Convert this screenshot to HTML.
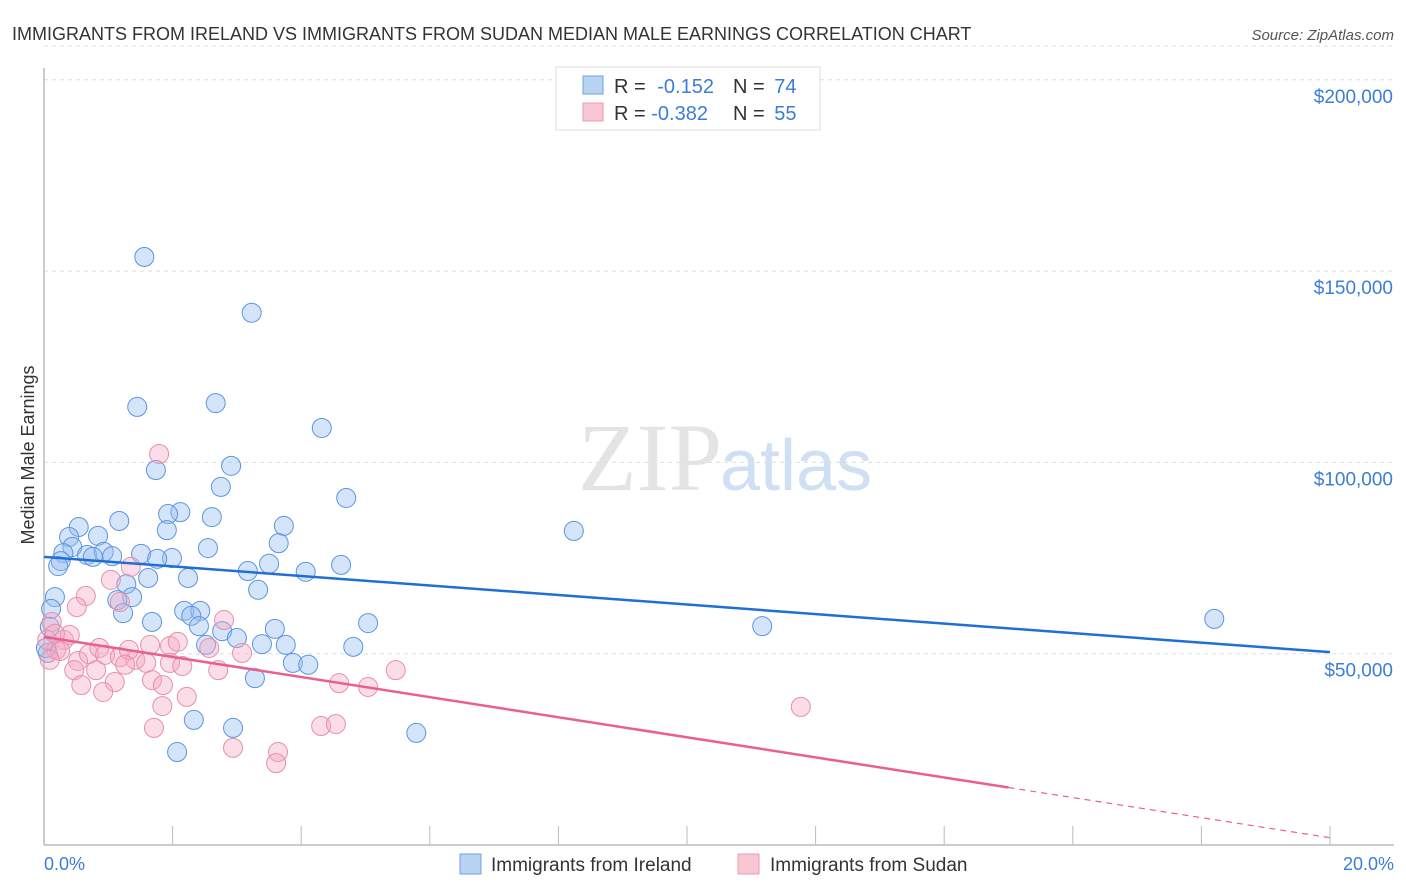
<!DOCTYPE html>
<html><head><meta charset="utf-8"><style>
body{margin:0;background:#fff;font-family:"Liberation Sans",sans-serif;}
svg{display:block}
</style></head><body>
<svg id="chart" width="1406" height="892" xmlns="http://www.w3.org/2000/svg">
<text x="12" y="40" font-size="18" fill="#333">IMMIGRANTS FROM IRELAND VS IMMIGRANTS FROM SUDAN MEDIAN MALE EARNINGS CORRELATION CHART</text>
<text x="1394" y="40" font-size="15" fill="#555" font-style="italic" text-anchor="end">Source: ZipAtlas.com</text>
<text x="722" y="490" font-size="96" fill="#e4e4e4" text-anchor="end" font-family="Liberation Serif,serif">ZIP</text>
<text x="720" y="490" font-size="72" fill="#cfe0f4">atlas</text>
<g id="grid"></g>
<g id="axes"></g>
<g id="pts"></g>
<g id="lines"></g>
<text transform="translate(34,455) rotate(-90)" font-size="18" fill="#333" text-anchor="middle">Median Male Earnings</text>
<text x="44" y="870" font-size="18" fill="#3b7dd8">0.0%</text>
<text x="1394" y="870" font-size="18" fill="#3b7dd8" text-anchor="end">20.0%</text>
<g>
<rect x="556" y="67" width="264" height="63" fill="#fff" stroke="#ddd"/>
<rect x="583" y="76" width="20" height="18" fill="#b9d3f3" stroke="#6fa0e0"/>
<rect x="583" y="103" width="20" height="18" fill="#f9c6d4" stroke="#ec9ab2"/>
<text x="614" y="93" font-size="20" fill="#333">R = <tspan fill="#3b7dd8" dx="6">-0.152</tspan></text>
<text x="733" y="93" font-size="20" fill="#333">N = <tspan fill="#3b7dd8" dx="4">74</tspan></text>
<text x="614" y="120" font-size="20" fill="#333">R = <tspan fill="#3b7dd8">-0.382</tspan></text>
<text x="733" y="120" font-size="20" fill="#333">N = <tspan fill="#3b7dd8" dx="4">55</tspan></text>
</g>
<g>
<rect x="460" y="854" width="21" height="20" fill="#b9d3f3" stroke="#6fa0e0"/>
<text x="491" y="871" font-size="19" fill="#333">Immigrants from Ireland</text>
<rect x="738" y="854" width="21" height="20" fill="#f9c6d4" stroke="#ec9ab2"/>
<text x="770" y="871" font-size="19" fill="#333">Immigrants from Sudan</text>
</g>
</svg>
<script>
const yTicks=[50,100,150,200];
const xTicks=[0,2,4,6,8,10,12,14,16,18,20];
const irelandX=[1.56,3.23,1.45,2.67,4.32,1.74,2.91,2.75,4.70,8.24,2.12,1.93,2.61,1.17,0.54,1.91,3.73,0.39,0.84,3.65,2.55,0.44,0.30,0.67,0.93,1.06,0.76,1.51,1.99,1.76,0.26,0.22,3.50,3.17,4.07,4.62,2.24,1.62,1.28,3.33,1.37,1.14,0.17,0.11,2.18,2.43,2.29,1.23,1.68,2.41,2.77,3.00,3.59,5.04,2.52,3.76,3.39,4.81,3.87,4.11,3.28,2.33,2.94,5.79,2.07,11.17,18.20,0.06,0.03,0.09];
const irelandY=[153.7,139.1,114.5,115.5,109.0,98.0,99.1,93.6,90.7,82.1,87.0,86.5,85.7,84.7,83.1,82.3,83.4,80.5,80.8,78.9,77.6,77.9,76.3,75.8,76.6,75.5,75.3,76.1,75.0,74.8,74.2,72.9,73.5,71.6,71.4,73.2,69.8,69.8,68.2,66.7,64.8,64.0,64.8,61.7,61.2,61.2,59.9,60.6,58.3,57.2,55.9,54.1,56.5,58.0,52.3,52.3,52.5,51.8,47.6,47.1,43.6,32.7,30.6,29.3,24.3,57.2,59.1,50.2,51.5,57.0];
const sudanX=[1.79,0.65,1.04,0.51,1.18,0.12,0.31,0.40,0.19,0.05,0.17,0.25,0.53,0.70,0.86,0.95,1.18,1.42,1.59,1.32,1.96,2.08,1.96,2.15,2.80,3.08,5.47,4.59,5.04,0.47,0.81,0.58,1.10,0.92,1.68,1.85,2.22,2.71,1.84,1.71,2.94,3.64,3.61,4.31,4.54,11.77,1.35,2.57,1.65,1.26,0.09];
const sudanY=[102.2,65.1,69.3,62.2,63.5,58.3,53.6,54.9,51.0,53.6,55.2,50.7,48.1,49.9,51.5,49.7,49.1,48.4,47.6,51.0,52.0,53.1,47.6,46.8,58.8,50.2,45.7,42.3,41.3,45.7,45.7,41.8,42.6,40.0,43.1,41.8,38.7,45.7,36.3,30.6,25.4,24.3,21.4,31.1,31.6,36.1,72.7,51.5,52.3,47.1,48.4];
const irelandTrend=[75.3,50.4];
const sudanTrend=[54.4,1.9];
const sudanSolidEnd=15.0;
const NS="http://www.w3.org/2000/svg";
const X=v=>44+v*64.3, Y=v=>845-v*3.826;
function mk(t,a,p){const e=document.createElementNS(NS,t);for(const k in a)e.setAttribute(k,a[k]);p.appendChild(e);return e;}
const grid=document.getElementById('grid'),axes=document.getElementById('axes'),pts=document.getElementById('pts'),lines=document.getElementById('lines');
yTicks.forEach(v=>{
const l=mk('line',{x1:44,x2:1394,y1:Y(v),y2:Y(v),stroke:'#ddd','stroke-dasharray':'4,4'},grid);


const t=mk('text',{x:1393,y:Y(v)+23,'font-size':19,fill:'#3b7dd8','text-anchor':'end'},grid);
t.textContent='$'+(v*1000).toLocaleString('en-US');


});
mk('line',{x1:44,x2:1394,y1:Y(208.8),y2:Y(208.8),stroke:'#ddd','stroke-dasharray':'4,4'},grid);
const ax=mk('line',{x1:44,x2:44,y1:68,y2:845,stroke:'#bbb','stroke-width':1.5},axes);


const bx=mk('line',{x1:44,x2:1394,y1:845,y2:845,stroke:'#bbb','stroke-width':1.5},axes);


xTicks.forEach(v=>{
const t=mk('line',{x1:X(v),x2:X(v),y1:826,y2:845,stroke:'#bbb'},axes);


});
irelandX.forEach((v,i)=>{
const c=mk('circle',{cx:X(v),cy:Y(irelandY[i]),r:9.5,fill:'rgba(150,190,240,0.4)',stroke:'#5b95e0','stroke-width':1},pts);


});
sudanX.forEach((v,i)=>{
const c=mk('circle',{cx:X(v),cy:Y(sudanY[i]),r:9.5,fill:'rgba(245,170,195,0.4)',stroke:'#e88fab','stroke-width':1},pts);


});
const l1=mk('line',{x1:X(0),y1:Y(irelandTrend[0]),x2:X(20),y2:Y(irelandTrend[1]),stroke:'#1f6fd6','stroke-width':2.5},lines);


const sAt=x=>sudanTrend[0]+(sudanTrend[1]-sudanTrend[0])*x/20;
const l2=mk('line',{x1:X(0),y1:Y(sudanTrend[0]),x2:X(sudanSolidEnd),y2:Y(sAt(sudanSolidEnd)),stroke:'#e8608e','stroke-width':2.5},lines);


const l3=mk('line',{x1:X(sudanSolidEnd),y1:Y(sAt(sudanSolidEnd)),x2:X(20),y2:Y(sudanTrend[1]),stroke:'#e8608e','stroke-width':1.2,'stroke-dasharray':'6,5'},lines);


</script>
</body></html>
